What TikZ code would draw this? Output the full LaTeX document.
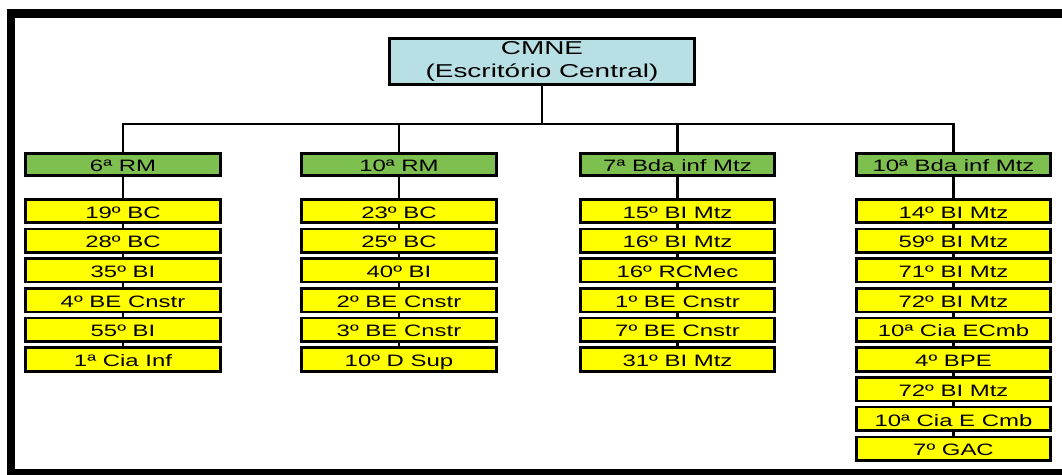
\documentclass[tikz,border=0pt]{standalone}
\usepackage{fontspec}
\setmainfont{Liberation Sans}[FakeStretch=1.45]
\newfontfamily\hqfont{Liberation Sans}[FakeStretch=1.5]
\usepackage{tikz}

\definecolor{cmneblue}{RGB}{184,223,228}
\definecolor{rmgreen}{RGB}{126,192,80}
\definecolor{unityellow}{RGB}{255,255,0}

\begin{document}
\begin{tikzpicture}[
  x=0.02cm, y=-0.02cm,
  box/.style={draw, line width=1.5pt, inner sep=0pt, text=black},
  hq/.style={box, align=center, fill=cmneblue, minimum width=6.1cm, minimum height=0.93cm, font=\hqfont\fontsize{10.6}{12.6}\selectfont},
  region/.style={box, fill=rmgreen, minimum width=3.89cm, minimum height=0.45cm, text height=8.2pt, text depth=0pt, font=\fontsize{9.4}{11}\selectfont},
  unit/.style={box, fill=unityellow, minimum width=3.89cm, minimum height=0.47cm, text height=8.2pt, text depth=0pt, font=\fontsize{9.4}{11}\selectfont},
  link/.style={line width=1.5pt}
]
\useasboundingbox (0,0) rectangle (1062,475);

% outer frame, cut by the page edge on the right
\begin{scope}
  \clip (0,0) rectangle (1062,475);
  \draw[line width=4.6pt] (11,13.5) rectangle (1090,473);
\end{scope}

\node[hq] (cmne) at (542,61.5) {CMNE\\(Escritório Central)};
\coordinate (bus) at (542,124);

\node[region] (rm6)   at (123,164.5)   {6ª RM};
\node[region] (rm10)  at (399,164.5)   {10ª RM};
\node[region] (bda7)  at (677.5,164.5) {7ª Bda inf Mtz};
\node[region] (bda10) at (953.5,164.5) {10ª Bda inf Mtz};

\foreach \txt [count=\i] in {19º BC, 28º BC, 35º BI, 4º BE Cnstr, 55º BI, 1ª Cia Inf}
  \node[unit] (a\i) at (123,{211+29.7*(\i-1)}) {\txt};
\foreach \txt [count=\i] in {23º BC, 25º BC, 40º BI, 2º BE Cnstr, 3º BE Cnstr, 10º D Sup}
  \node[unit] (b\i) at (399,{211+29.7*(\i-1)}) {\txt};
\foreach \txt [count=\i] in {15º BI Mtz, 16º BI Mtz, 16º RCMec, 1º BE Cnstr, 7º BE Cnstr, 31º BI Mtz}
  \node[unit] (c\i) at (677.5,{211+29.7*(\i-1)}) {\txt};
\foreach \txt [count=\i] in {14º BI Mtz, 59º BI Mtz, 71º BI Mtz, 72º BI Mtz, 10ª Cia ECmb, 4º BPE, 72º BI Mtz, 10ª Cia E Cmb, 7º GAC}
  \node[unit] (d\i) at (953.5,{211+29.7*(\i-1)}) {\txt};

% connectors
\draw[link] (cmne.south) -- (bus);
\foreach \g in {rm6, rm10, bda7, bda10}
  \draw[link] (bus) -| (\g.north);

\draw[link] (rm6) -- (a1);
\draw[link] (rm10) -- (b1);
\draw[link] (bda7) -- (c1);
\draw[link] (bda10) -- (d1);
\foreach \i [evaluate=\i as \j using int(\i+1)] in {1,...,5} {
  \draw[link] (a\i) -- (a\j);
  \draw[link] (b\i) -- (b\j);
  \draw[link] (c\i) -- (c\j);
}
\foreach \i [evaluate=\i as \j using int(\i+1)] in {1,...,8}
  \draw[link] (d\i) -- (d\j);

\end{tikzpicture}
\end{document}
